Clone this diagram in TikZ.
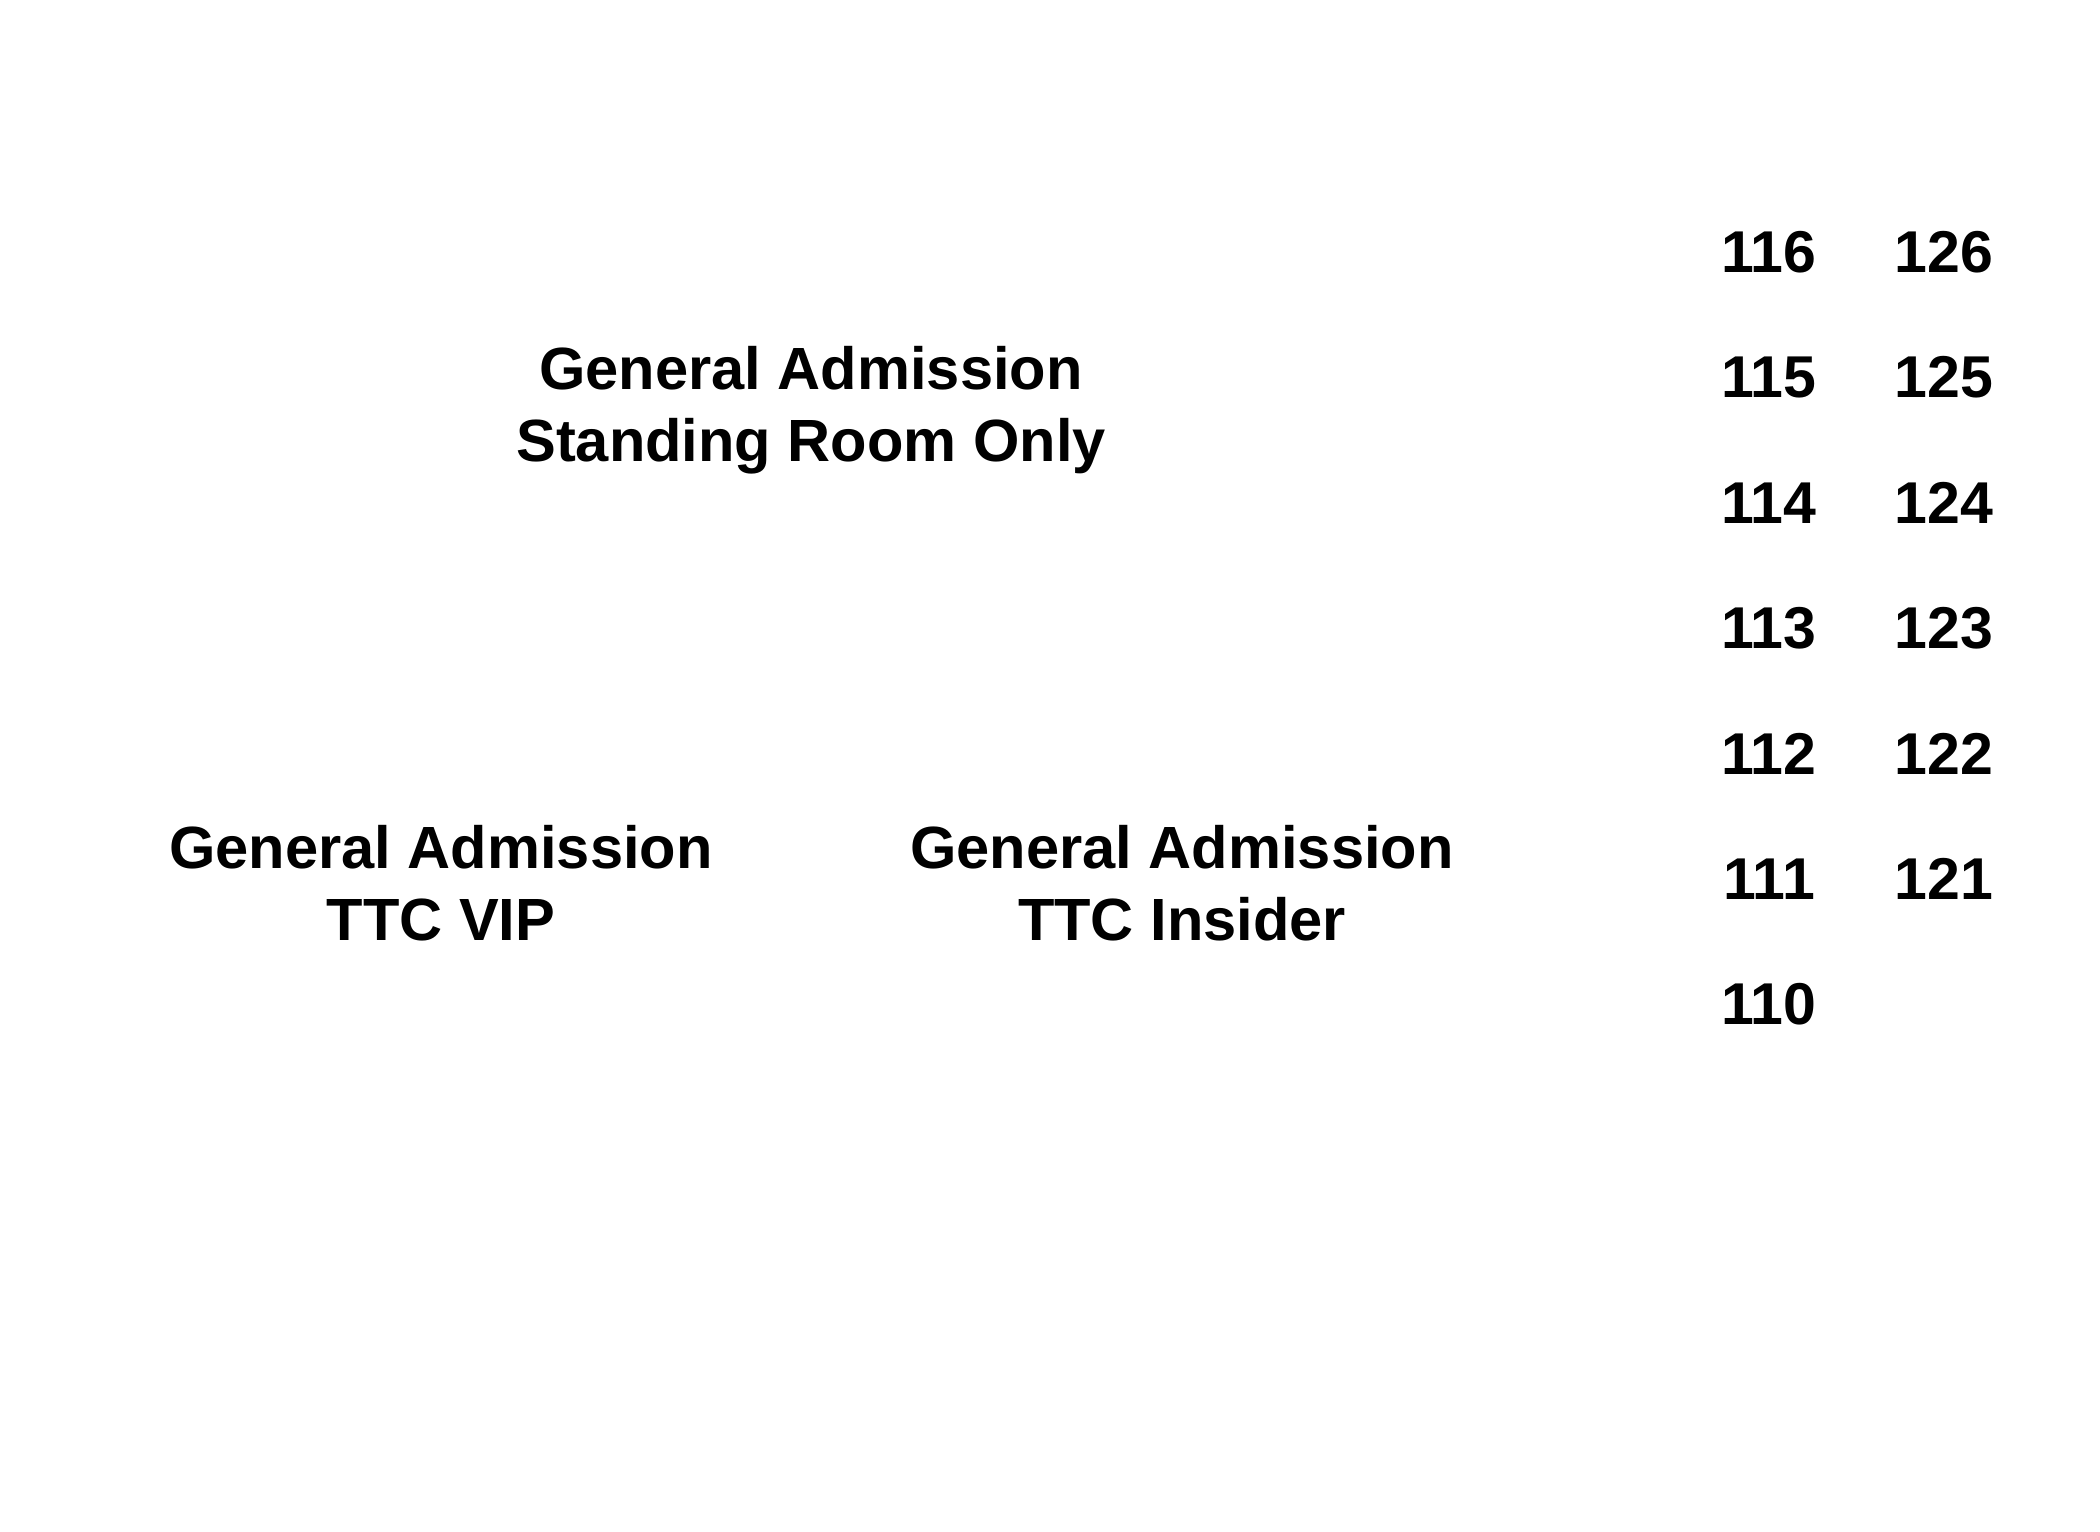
\documentclass[tikz,border=0pt]{standalone}
\usepackage{fontspec}
\setmainfont{Liberation Sans}
\begin{document}
\begin{tikzpicture}[x=0.5pt,y=-0.5pt,
  lab/.style={font=\bfseries\fontsize{29.8}{36}\selectfont, align=center, inner sep=0pt, text=black},
  num/.style={font=\bfseries\fontsize{29.5}{36}\selectfont, inner sep=0pt, text=black}]
\useasboundingbox[fill=white] (0,0) rectangle (2100,1532);
\node[lab] (sro) at (811,410) {General Admission\\Standing Room Only};
\node[lab] (vip) at (441,883) {General Admission\\TTC VIP};
\node[lab] (ins) at (1182,883) {General Admission\\TTC Insider};
\foreach \n/\r in {116/0,115/1,114/2,113/3,112/4,111/5,110/6}{
  \node[num] (s\n) at (1769,{252+125.4*\r}) {\n};
}
\foreach \n/\r in {126/0,125/1,124/2,123/3,122/4,121/5}{
  \node[num] (s\n) at (1944,{252+125.4*\r}) {\n};
}
\end{tikzpicture}
\end{document}
